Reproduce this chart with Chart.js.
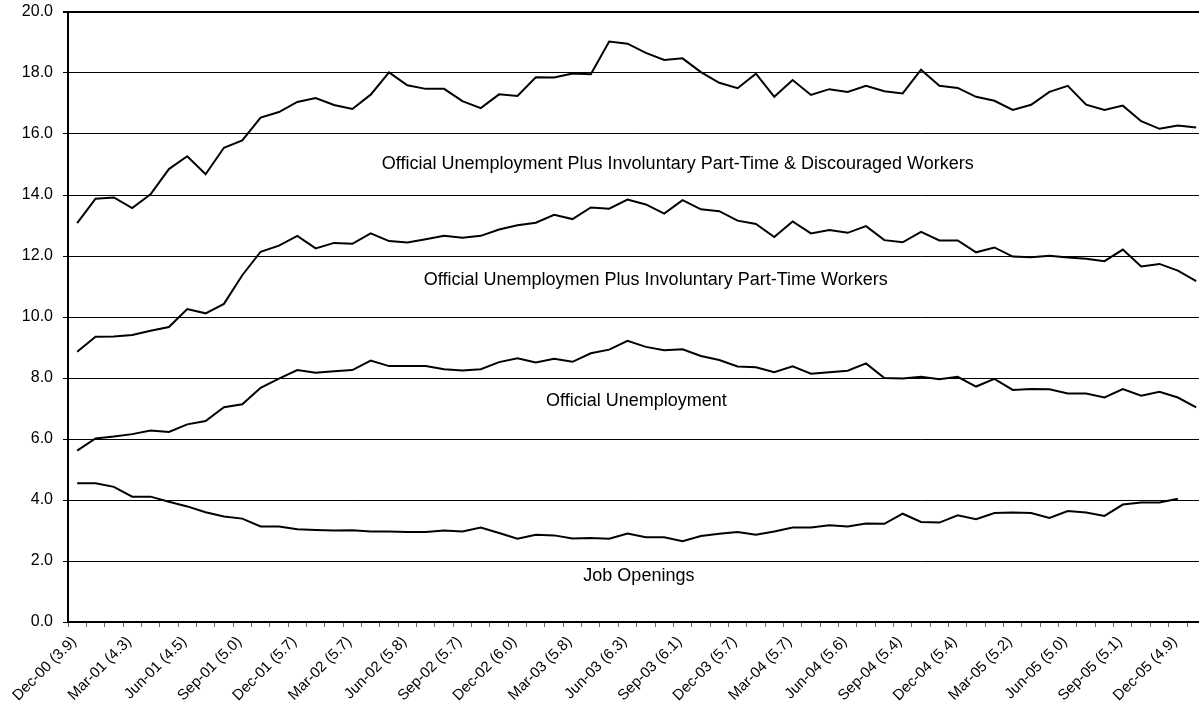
<!DOCTYPE html>
<html>
<head>
<meta charset="utf-8">
<script src="https://cdn.jsdelivr.net/npm/chart.js@4.4.1/dist/chart.umd.min.js"></script>
<style>
    html, body { margin: 0; padding: 0; background: #fff; overflow: hidden; }
    #wrap { width: 1215px; height: 708px; }
</style>
</head>
<body>
<div id="wrap"><canvas id="rates-chart" width="1215" height="708"></canvas></div>
<script>
const months = [
    'Dec-00',
    'Jan-01', 'Feb-01', 'Mar-01', 'Apr-01', 'May-01', 'Jun-01', 'Jul-01', 'Aug-01', 'Sep-01', 'Oct-01', 'Nov-01', 'Dec-01',
    'Jan-02', 'Feb-02', 'Mar-02', 'Apr-02', 'May-02', 'Jun-02', 'Jul-02', 'Aug-02', 'Sep-02', 'Oct-02', 'Nov-02', 'Dec-02',
    'Jan-03', 'Feb-03', 'Mar-03', 'Apr-03', 'May-03', 'Jun-03', 'Jul-03', 'Aug-03', 'Sep-03', 'Oct-03', 'Nov-03', 'Dec-03',
    'Jan-04', 'Feb-04', 'Mar-04', 'Apr-04', 'May-04', 'Jun-04', 'Jul-04', 'Aug-04', 'Sep-04', 'Oct-04', 'Nov-04', 'Dec-04',
    'Jan-05', 'Feb-05', 'Mar-05', 'Apr-05', 'May-05', 'Jun-05', 'Jul-05', 'Aug-05', 'Sep-05', 'Oct-05', 'Nov-05', 'Dec-05',
    'Jan-06'
];

// shown every third month
const quarterLabels = [
    'Dec-00 (3.9)', 'Mar-01 (4.3)', 'Jun-01 (4.5)', 'Sep-01 (5.0)', 'Dec-01 (5.7)', 'Mar-02 (5.7)',
    'Jun-02 (5.8)', 'Sep-02 (5.7)', 'Dec-02 (6.0)', 'Mar-03 (5.8)', 'Jun-03 (6.3)', 'Sep-03 (6.1)',
    'Dec-03 (5.7)', 'Mar-04 (5.7)', 'Jun-04 (5.6)', 'Sep-04 (5.4)', 'Dec-04 (5.4)', 'Mar-05 (5.2)',
    'Jun-05 (5.0)', 'Sep-05 (5.1)', 'Dec-05 (4.9)'
];

const yTicks = [0, 2, 4, 6, 8, 10, 12, 14, 16, 18, 20];

const discouragedRate = [
    13.08, 13.88, 13.92, 13.57, 14.02, 14.85, 15.27, 14.68, 15.55, 15.79,
    16.54, 16.72, 17.05, 17.18, 16.95, 16.82, 17.29, 18.02, 17.60, 17.48,
    17.48, 17.08, 16.85, 17.30, 17.25, 17.86, 17.85, 17.98, 17.96, 19.03,
    18.96, 18.66, 18.43, 18.48, 18.03, 17.68, 17.50, 17.98, 17.22, 17.77,
    17.28, 17.47, 17.38, 17.58, 17.40, 17.33, 18.11, 17.58, 17.51, 17.22,
    17.09, 16.79, 16.96, 17.38, 17.58, 16.96, 16.79, 16.93, 16.42, 16.17,
    16.28, 16.21
];

const partTimeRate = [
    8.86, 9.35, 9.36, 9.41, 9.55, 9.67, 10.26, 10.12, 10.43, 11.37,
    12.14, 12.34, 12.66, 12.25, 12.43, 12.40, 12.74, 12.49, 12.44, 12.55,
    12.66, 12.60, 12.66, 12.87, 13.01, 13.09, 13.35, 13.21, 13.59, 13.55,
    13.85, 13.69, 13.39, 13.83, 13.53, 13.47, 13.16, 13.05, 12.62, 13.13,
    12.74, 12.85, 12.76, 12.98, 12.52, 12.45, 12.79, 12.51, 12.51, 12.12,
    12.28, 11.98, 11.96, 12.01, 11.95, 11.91, 11.83, 12.21, 11.66, 11.74,
    11.52, 11.18
];

const officialRate = [
    5.62, 6.02, 6.08, 6.16, 6.28, 6.23, 6.48, 6.59, 7.04, 7.14,
    7.68, 7.98, 8.26, 8.17, 8.22, 8.26, 8.57, 8.39, 8.39, 8.39,
    8.29, 8.25, 8.29, 8.52, 8.65, 8.51, 8.63, 8.53, 8.81, 8.93,
    9.22, 9.02, 8.91, 8.94, 8.72, 8.59, 8.38, 8.35, 8.19, 8.38,
    8.14, 8.19, 8.24, 8.48, 8.00, 7.98, 8.04, 7.96, 8.04, 7.72,
    7.97, 7.61, 7.64, 7.63, 7.49, 7.49, 7.36, 7.64, 7.42, 7.55,
    7.36, 7.04
];

const jobOpenings = [
    4.55, 4.55, 4.43, 4.11, 4.11, 3.94, 3.79, 3.60, 3.46, 3.39,
    3.13, 3.13, 3.04, 3.02, 3.00, 3.01, 2.97, 2.97, 2.95, 2.95,
    3.00, 2.97, 3.10, 2.92, 2.73, 2.86, 2.84, 2.74, 2.75, 2.73,
    2.90, 2.78, 2.78, 2.65, 2.82, 2.89, 2.95, 2.86, 2.97, 3.10,
    3.10, 3.17, 3.13, 3.23, 3.22, 3.55, 3.28, 3.26, 3.50, 3.37,
    3.57, 3.59, 3.57, 3.41, 3.64, 3.59, 3.48, 3.85, 3.92, 3.92,
    4.04, null
];

const seriesNames = [
    'Official Unemployment Plus Involuntary Part-Time & Discouraged Workers',
    'Official Unemploymen Plus Involuntary Part-Time Workers',
    'Official Unemployment',
    'Job Openings'
];

// where the series names sit: x as month index, y as value
const namePlacement = [
    { at: 32.74, value: 15.03 },
    { at: 31.54, value: 11.2 },
    { at: 30.48, value: 7.26 },
    { at: 30.62, value: 1.52 }
];

Chart.defaults.font.family = '"Liberation Sans", Arial, sans-serif';
Chart.defaults.color = '#000';

const seriesNamePlugin = {
    id: 'seriesNames',
    afterDatasetsDraw(chart) {
        const ctx = chart.ctx;
        const x = chart.scales.x;
        const y = chart.scales.y;
        ctx.save();
        ctx.font = '18px "Liberation Sans", Arial, sans-serif';
        ctx.fillStyle = '#000';
        ctx.textAlign = 'center';
        ctx.textBaseline = 'middle';
        seriesNames.forEach((name, i) => {
            const p = namePlacement[i];
            ctx.fillText(name, x.getPixelForValue(p.at), y.getPixelForValue(p.value));
        });
        ctx.restore();
    }
};

function lineSet(label, data) {
    return {
        label: label,
        data: data,
        borderColor: '#000',
        borderWidth: 2,
        pointRadius: 0,
        tension: 0,
        fill: false,
        spanGaps: false
    };
}

new Chart(document.getElementById('rates-chart'), {
    type: 'line',
    data: {
        labels: months,
        datasets: [
            lineSet(seriesNames[0], discouragedRate),
            lineSet(seriesNames[1], partTimeRate),
            lineSet(seriesNames[2], officialRate),
            lineSet(seriesNames[3], jobOpenings)
        ]
    },
    options: {
        responsive: false,
        animation: false,
        layout: {
            padding: { top: 12, right: 9, left: 0, bottom: 0 }
        },
        plugins: {
            legend: { display: false },
            tooltip: { enabled: false }
        },
        scales: {
            x: {
                type: 'category',
                offset: true,
                afterFit: (scale) => { scale.height = 86; },
                grid: {
                    offset: true,
                    drawOnChartArea: false,
                    drawTicks: true,
                    tickLength: 5,
                    color: '#666'
                },
                border: { display: true, color: '#000', width: 2 },
                ticks: {
                    autoSkip: false,
                    maxRotation: 45,
                    minRotation: 45,
                    padding: 6,
                    labelOffset: -3,
                    color: '#000',
                    font: { size: 15 },
                    callback: (value, index) => index % 3 === 0 ? quarterLabels[index / 3] : ''
                }
            },
            y: {
                min: yTicks[0],
                max: yTicks[yTicks.length - 1],
                afterFit: (scale) => {
                    scale.width = 68;
                    // the tick padding would otherwise push the plot top down
                    scale.paddingTop = 0;
                    scale.paddingBottom = 0;
                },
                afterBuildTicks: (scale) => {
                    scale.ticks = yTicks.map(v => ({ value: v }));
                },
                grid: {
                    color: '#000',
                    lineWidth: (c) => c.tick && c.tick.value === 20 ? 2 : 1,
                    drawTicks: true,
                    tickLength: 5
                },
                border: { display: true, color: '#000', width: 2 },
                ticks: {
                    padding: 10,
                    color: '#000',
                    font: { size: 16 },
                    callback: (value) => Number(value).toFixed(1)
                }
            }
        }
    },
    plugins: [seriesNamePlugin]
});
</script>
</body>
</html>
